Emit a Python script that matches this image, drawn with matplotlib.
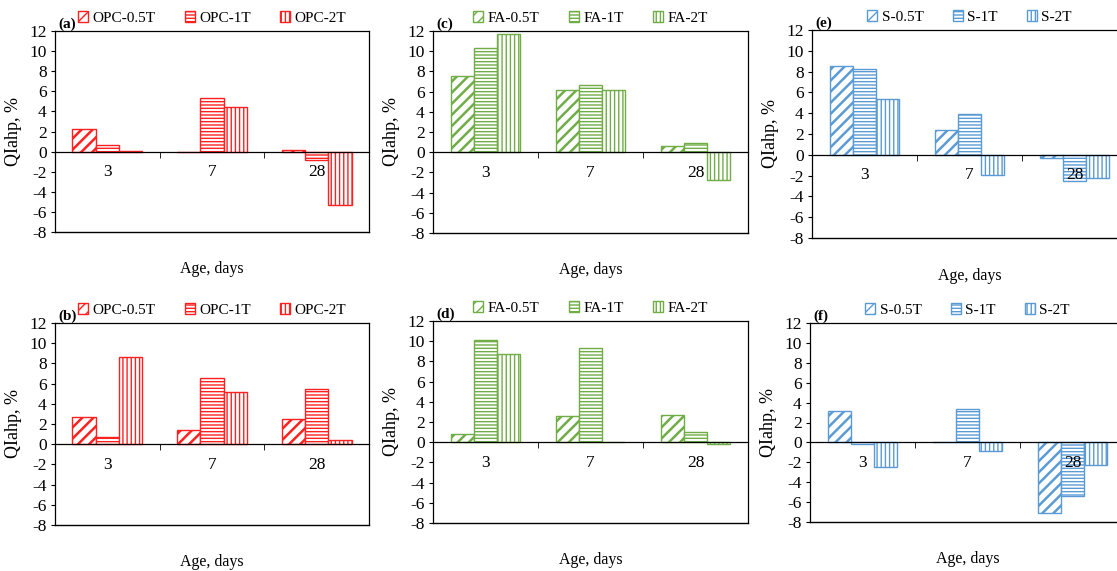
import numpy as np
import matplotlib
matplotlib.use("Agg")
import matplotlib.pyplot as plt

plt.rcParams['font.family'] = ['Liberation Serif', 'DejaVu Serif']
plt.rcParams['axes.unicode_minus'] = False

ages = ["3", "7", "28"]

# values per panel, one list per series (0.5T, 1T, 2T), ordered by age
opc_a_05 = [2.25, 0.0, 0.13]
opc_a_1 = [0.63, 5.29, -0.86]
opc_a_2 = [0.1, 4.39, -5.32]

fa_c_05 = [7.52, 6.13, 0.63]
fa_c_1 = [10.32, 6.63, 0.92]
fa_c_2 = [11.7, 6.13, -2.77]

s_e_05 = [8.58, 2.34, -0.29]
s_e_1 = [8.26, 3.94, -2.56]
s_e_2 = [5.34, -1.92, -2.24]

opc_b_05 = [2.70, 1.38, 2.47]
opc_b_1 = [0.73, 6.53, 5.44]
opc_b_2 = [8.64, 5.14, 0.43]

fa_d_05 = [0.82, 2.63, 2.66]
fa_d_1 = [10.07, 9.28, 1.02]
fa_d_2 = [8.78, 0.0, -0.2]

s_f_05 = [3.13, 0.05, -7.09]
s_f_1 = [-0.2, 3.33, -5.38]
s_f_2 = [-2.52, -0.87, -2.29]

suffixes = ["-0.5T", "-1T", "-2T"]
hatches = ["///", "-----", "||||"]
hatch_lw = [1.8, 1.0, 1.0]

W, H = 1117, 571
fig = plt.figure(figsize=(W / 100, H / 100), dpi=100)


def make_axes(l, r, t, b):
    return fig.add_axes([l / W, 1 - b / H, (r - l) / W, (b - t) / H])


def panel(ax, tag, prefix, color, series):
    x = np.arange(len(ages))
    w = 0.222
    handles = []
    for i, vals in enumerate(series):
        with plt.rc_context({'hatch.linewidth': hatch_lw[i]}):
            bars = ax.bar(x + (i - 1) * w, vals, w, facecolor='white',
                          edgecolor=color, hatch=hatches[i], linewidth=1.0,
                          label=prefix + suffixes[i], zorder=2)
        handles.append(bars)
    ax.set_axisbelow(False)
    ax.set_xlim(-0.5, 2.5)
    ax.set_ylim(-8, 12)
    ax.set_yticks(np.arange(-8, 13, 2))
    ax.tick_params(axis='y', direction='out', length=3, pad=3, labelsize=12.5)

    # category axis sits on the zero line
    ax.spines['bottom'].set_position(('data', 0))
    ax.spines['bottom'].set_zorder(3)
    ax.set_xticks(x)
    ax.set_xticklabels(ages)
    ax.set_xticks([0.5, 1.5], minor=True)
    ax.tick_params(axis='x', which='major', length=0, pad=9, labelsize=12.5)
    ax.tick_params(axis='x', which='minor', direction='out', length=4)
    ax.plot([0, 1], [0, 0], transform=ax.transAxes, color='black',
            lw=1.0, clip_on=False)
    for s in ax.spines.values():
        s.set_linewidth(0.9)

    ax.set_ylabel("QIahp, %", fontsize=13)
    ax.yaxis.set_label_coords(-0.105, 0.5)
    ax.text(0.5, -0.185, "Age, days", transform=ax.transAxes,
            ha='center', va='center', fontsize=11.5)
    ax.text(0.012, 1.0, tag, transform=ax.transAxes, ha='left',
            va='bottom', fontsize=11, fontweight='bold')
    ax.legend(handles=handles, loc='lower center', bbox_to_anchor=(0.5, 1.0),
              ncol=3, frameon=False, fontsize=11, handlelength=0.65,
              handleheight=0.65, handletextpad=0.3, columnspacing=1.9,
              borderaxespad=0.0)


red = '#FF2020'
green = '#70AD47'
blue = '#5B9BD5'

panel(make_axes(55, 369, 31, 232), "(a)", "OPC", red,
      [opc_a_05, opc_a_1, opc_a_2])
panel(make_axes(433, 748, 31, 233), "(c)", "FA", green,
      [fa_c_05, fa_c_1, fa_c_2])
panel(make_axes(812, 1127, 30, 238), "(e)", "S", blue,
      [s_e_05, s_e_1, s_e_2])
panel(make_axes(55, 369, 323, 525), "(b)", "OPC", red,
      [opc_b_05, opc_b_1, opc_b_2])
panel(make_axes(433, 748, 321, 523), "(d)", "FA", green,
      [fa_d_05, fa_d_1, fa_d_2])
panel(make_axes(810, 1125, 323, 522), "(f)", "S", blue,
      [s_f_05, s_f_1, s_f_2])

fig.savefig("out.png", dpi=100)
